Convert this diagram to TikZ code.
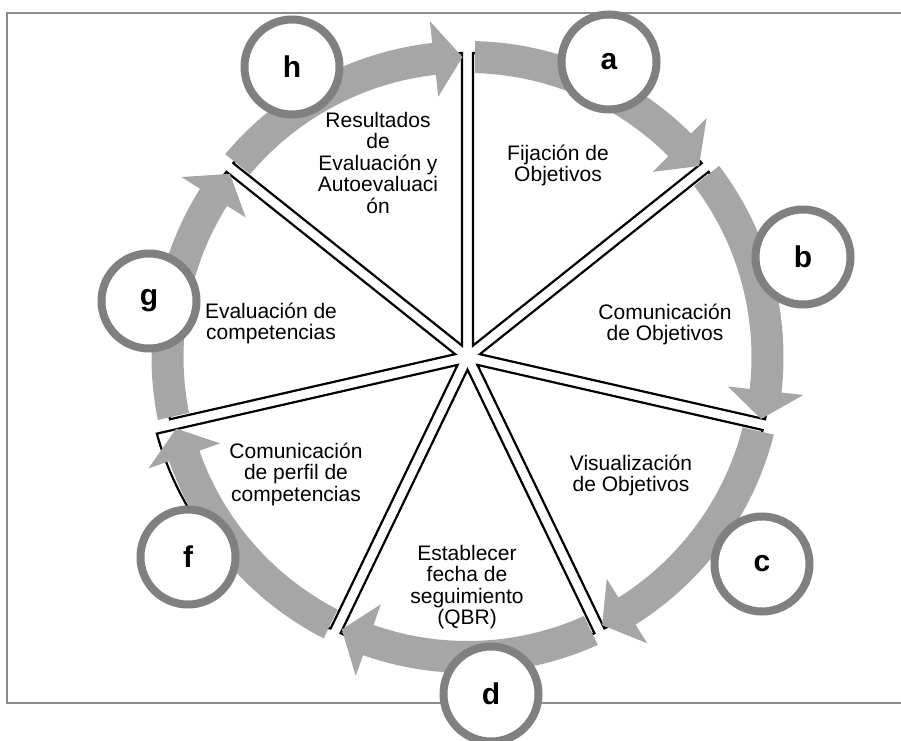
\documentclass[tikz,border=0pt]{standalone}
\usepackage{fontspec}
\setmainfont{Liberation Sans}
\usetikzlibrary{calc}
\definecolor{bandgray}{RGB}{166,166,166}
\definecolor{ringgray}{RGB}{128,128,128}
\definecolor{framegray}{RGB}{140,140,140}
\newcommand\firststrut{\rule{0pt}{18pt}}
\begin{document}
\begin{tikzpicture}[x=1pt,y=1pt,
  wedgebox/.style={draw=black, line width=2.2pt, fill=white, line join=miter},
  bandarrow/.style={fill=bandgray, draw=none},
  lettercircle/.style={circle, draw=ringgray, line width=8pt, fill=white,
    minimum size=95pt, inner sep=0pt, font=\fontsize{30}{30}\selectfont\bfseries},
  wedgetext/.style={align=center, inner sep=0pt, anchor=north,
    font=\fontsize{21}{21.5}\selectfont}]
\useasboundingbox (0,0) rectangle (901,740);
\clip (0,0) rectangle (901,740);
\draw[framegray, line width=2pt] (7,37) rectangle (910,727);
\coordinate (C) at (467.5,383);
\begin{scope}[shift={(C)}]
  % wedges
  \foreach \k in {0,1,2,3,5,6} {
    \pgfmathsetmacro\ta{90-51.428571*\k}
    \pgfmathsetmacro\tb{\ta-51.428571}
    \pgfmathsetmacro\tm{\ta-25.714286}
    \draw[wedgebox] (\tm:12.68) -- (\ta-1.04:304)
      arc[start angle=\ta-1.04, end angle=\tb+1.04, radius=304pt] -- cycle;
  }
  % wedge f (its outer edge bulges out towards g)
  \draw[wedgebox] (-141.428:12.68) -- (-116.754:304)
    -- plot[domain=0:1, samples=40] ({-116.754-49.404*\x}:{304+16*sqrt(\x)})
    -- cycle;
  % gray arrows
  \foreach \k in {0,...,6} {
    \pgfmathsetmacro\ta{90-51.428571*\k}
    \pgfmathsetmacro\tb{\ta-51.428571}
    \pgfmathsetmacro\bs{\tb+6.4}
    \fill[bandarrow] (\ta-1.36:316)
      arc[start angle=\ta-1.36, end angle=\bs, radius=316pt]
      -- (\bs:338) -- (\tb+0.95:300) -- (\bs:262) -- (\bs:284)
      arc[start angle=\bs, end angle=\ta-1.51, radius=284pt] -- cycle;
  }
\end{scope}
% letter circles
\node[lettercircle] (a) at (609,678) {a};
\node[lettercircle] (b) at (803,483) {b};
\node[lettercircle] (c) at (762,176) {c};
\node[lettercircle] (d) at (491,46) {d};
\node[lettercircle] (f) at (188,183) {f};
\node[lettercircle] (g) at (149,439) {g};
\node[lettercircle] (h) at (292,673) {h};
% texts
\node[wedgetext] (ta) at (558,598) {\firststrut Fijación de\\Objetivos};
\node[wedgetext] (tb) at (665,439) {\firststrut Comunicación\\de Objetivos};
\node[wedgetext] (tc) at (631,288) {\firststrut Visualización\\de Objetivos};
\node[wedgetext] (td) at (467,198) {\firststrut Establecer\\fecha de\\seguimiento\\(QBR)};
\node[wedgetext] (tf) at (296,300) {\firststrut Comunicación\\de perfil de\\competencias};
\node[wedgetext] (tg) at (271,440) {\firststrut Evaluación de\\competencias};
\node[wedgetext] (th) at (378,631) {\firststrut Resultados\\de\\Evaluación y\\Autoevaluaci\\ón};
\end{tikzpicture}
\end{document}
